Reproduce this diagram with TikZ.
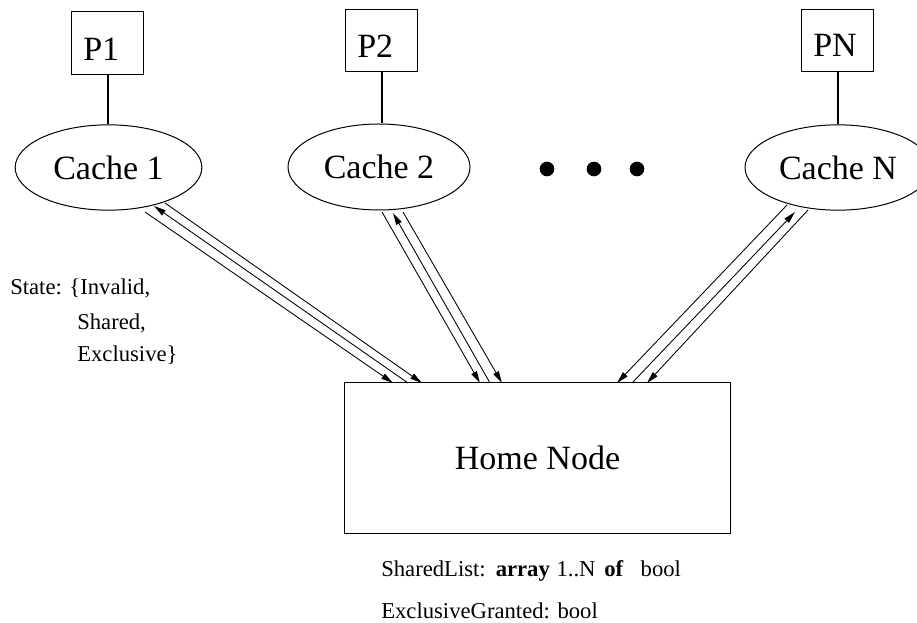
\documentclass[tikz,border=0pt]{standalone}
\usepackage{fontspec}
\setmainfont{Liberation Serif}
\usetikzlibrary{shapes.geometric,arrows.meta}
\begin{document}
\begin{tikzpicture}[x=0.75pt,y=-0.75pt,
  big/.style={font=\fontsize{25.5}{30}\selectfont},
  small/.style={font=\fontsize{17}{20}\selectfont},
  pbox/.style={draw, line width=0.75pt, minimum width=54pt, minimum height=47pt, inner sep=0},
  cache/.style={draw, ellipse, line width=0.75pt, inner sep=0, big},
  wire/.style={line width=1.5pt},
  msg/.style={line width=0.65pt, -{Triangle[length=9pt,width=4.5pt]}},
  dotnode/.style={circle, fill, inner sep=0, minimum size=11pt},
  txt/.style={anchor=base west, inner sep=0}
]
\useasboundingbox (0,0) rectangle (917,623);
\clip (0,0) rectangle (917,623);

% processors
\node[pbox] (p1) at (107.5,43) {};
\node[pbox] (p2) at (381.5,40.5) {};
\node[pbox] (pn) at (837.5,40.5) {};
\node[txt,big] (p1t) at (83,61) {P1};
\node[txt,big] (p2t) at (357,58) {P2};
\node[txt,big] (pnt) at (813,57) {PN};

% caches
\node[cache, minimum width=140pt, minimum height=64pt] (c1) at (108.5,167.5) {Cache 1};
\node[cache, minimum width=136.5pt, minimum height=64.5pt] (c2) at (379,167) {Cache 2};
\node[cache, minimum width=139.5pt, minimum height=64pt] (cn) at (838,167.5) {Cache N};

\draw[wire] (p1.south) -- (p1.south |- c1.north);
\draw[wire] (p2.south) -- (p2.south |- c2.north);
\draw[wire] (pn.south) -- (pn.south |- cn.north);

% dots
\node[dotnode] (d1) at (547,169) {};
\node[dotnode] (d2) at (594,169) {};
\node[dotnode] (d3) at (637,169) {};

% home node
\node[draw, line width=0.75pt, minimum width=290pt, minimum height=112.5pt, inner sep=0, big] (home) at (537.5,458) {Home Node};

% connector end points
\coordinate (c1a) at (145,212);  \coordinate (h1a) at (393,383);
\coordinate (c1b) at (154,206);  \coordinate (h1b) at (408,383);
\coordinate (c1c) at (165,203);  \coordinate (h1c) at (422,383);
\coordinate (c2a) at (382,212);  \coordinate (h2a) at (480,383);
\coordinate (c2b) at (393,213);  \coordinate (h2b) at (490,383);
\coordinate (c2c) at (403,212);  \coordinate (h2c) at (502,383);
\coordinate (cna) at (787,205);  \coordinate (hna) at (617,383);
\coordinate (cnb) at (795,212);  \coordinate (hnb) at (632,383);
\coordinate (cnc) at (808,210);  \coordinate (hnc) at (647,383);

\draw[msg] (c1a) -- (h1a);
\draw[msg] (h1b) -- (c1b);
\draw[msg] (c1c) -- (h1c);
\draw[msg] (c2a) -- (h2a);
\draw[msg] (h2b) -- (c2b);
\draw[msg] (c2c) -- (h2c);
\draw[msg] (cna) -- (hna);
\draw[msg] (hnb) -- (cnb);
\draw[msg] (cnc) -- (hnc);

% state text
\node[txt,font=\fontsize{17}{20}\selectfont] (s1) at (10,295) {State: \{Invalid,};
\node[txt,font=\fontsize{17}{20}\selectfont] (s2) at (77,330) {Shared,};
\node[txt,font=\fontsize{17}{20}\selectfont] (s3) at (77,362) {Exclusive\}};

% home text
\node[txt,small] (h1) at (381,576) {SharedList:\hspace{7.5pt}\textbf{array}\hspace{5pt}1..N\hspace{6.5pt}\textbf{of}\hspace{13pt}bool};
\node[txt,small] (h2) at (381,618) {ExclusiveGranted: bool};
\end{tikzpicture}
\end{document}
